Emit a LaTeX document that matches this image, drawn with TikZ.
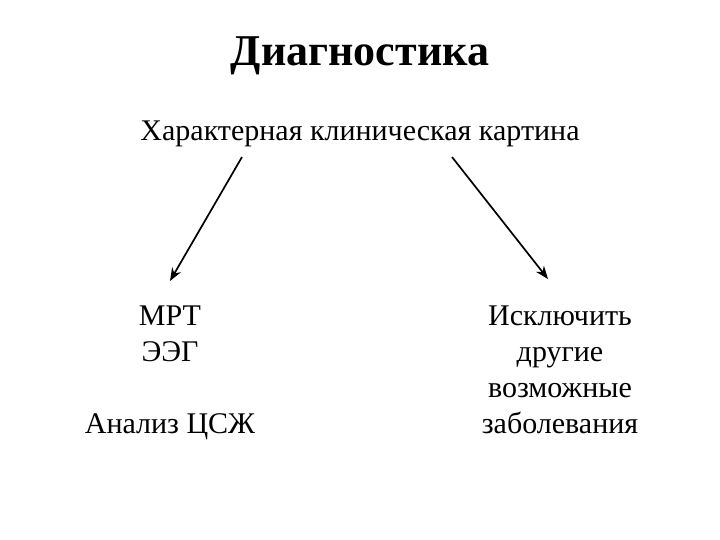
\documentclass[tikz,border=0pt]{standalone}
\usepackage{fontspec}
\setmainfont{Liberation Serif}
\usetikzlibrary{arrows.meta}
\begin{document}
\begin{tikzpicture}[x=1pt,y=-1pt,
  txt/.style={font=\fontsize{30}{36}\selectfont,align=center,inner sep=0},
  arr/.style={line width=1.7pt,-{Stealth[length=13pt,width=10pt]}}]
\useasboundingbox (0,0) rectangle (720,540);
\node[inner sep=0,font=\fontsize{44}{48}\selectfont\bfseries] (t) at (360,56) {Диагностика};
\node[txt] (s) at (360,134) {Характерная клиническая картина};
\node[txt,anchor=north] (l) at (170,306) {МРТ\\ЭЭГ\\[36pt]Анализ ЦСЖ};
\node[txt,anchor=north] (r) at (560,306) {Исключить\\другие\\возможные\\заболевания};
\coordinate (a1) at (242,157); \coordinate (a2) at (170,281);
\coordinate (b1) at (452,157); \coordinate (b2) at (548,279);
\draw[arr] (a1) -- (a2);
\draw[arr] (b1) -- (b2);
\end{tikzpicture}
\end{document}
